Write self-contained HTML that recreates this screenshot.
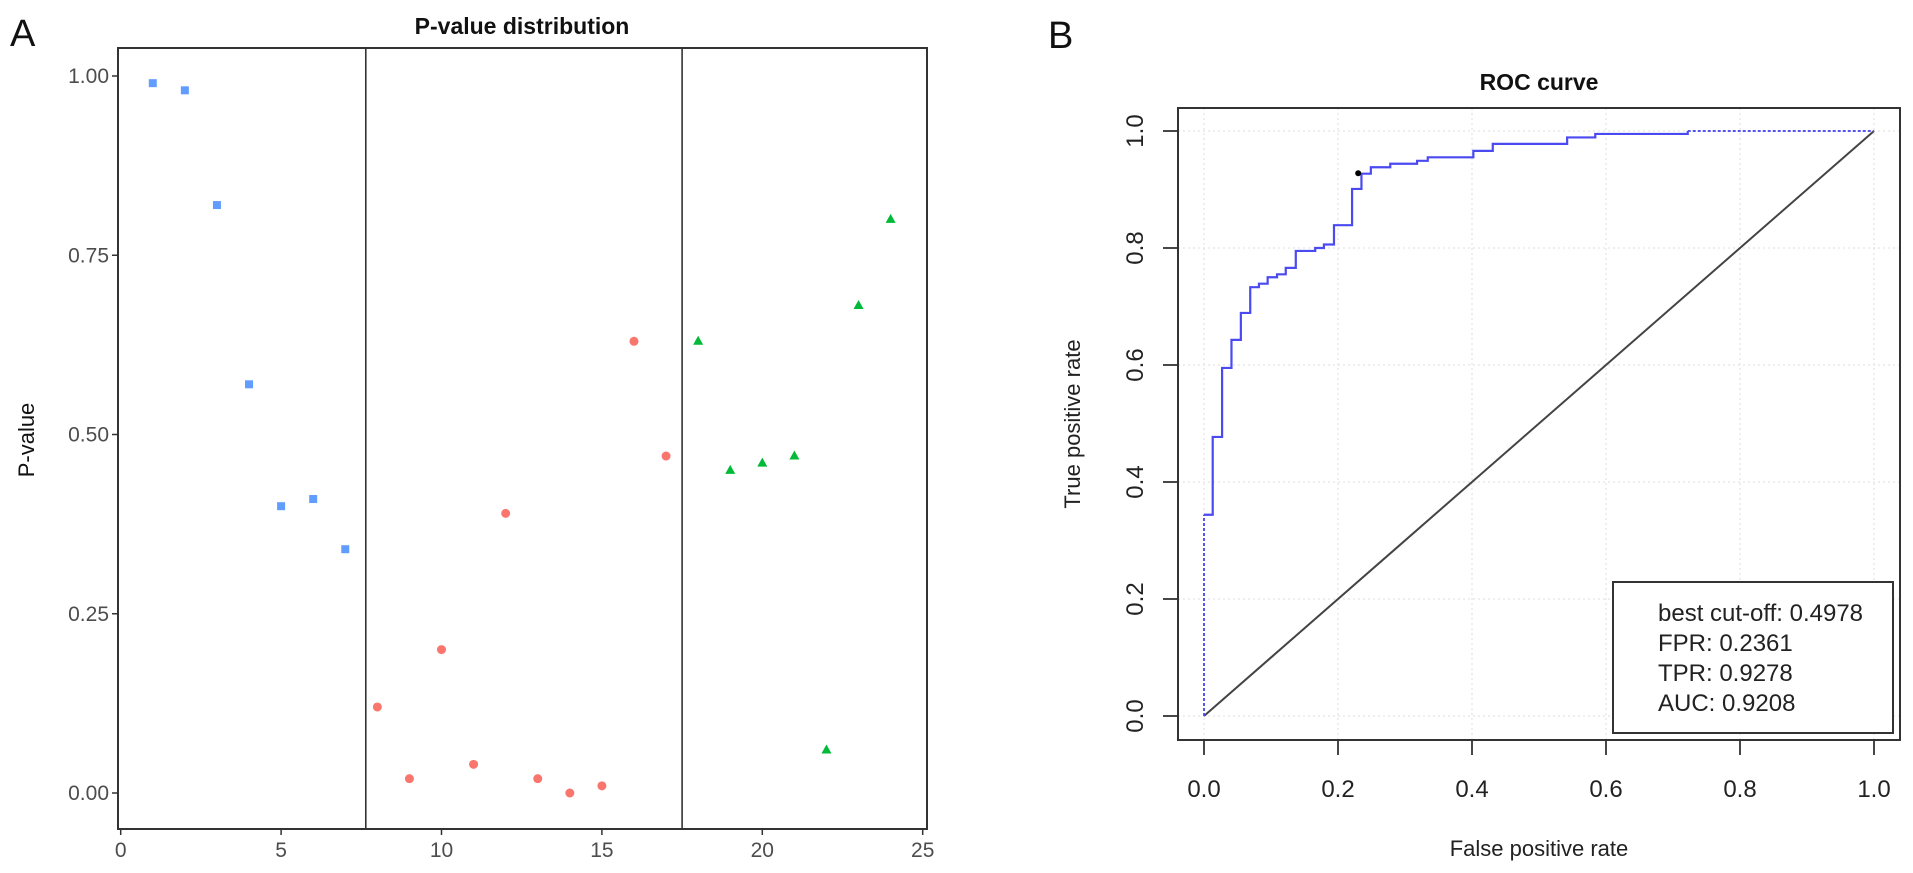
<!DOCTYPE html>
<html><head><meta charset="utf-8"><style>
html,body{margin:0;padding:0;background:#fff;}
svg{display:block;font-family:"Liberation Sans",Arial,sans-serif;}
</style></head><body>
<svg id="fig" width="1913" height="873" viewBox="0 0 1913 873">
<text x="10" y="46" font-size="38" fill="#111">A</text>
<text x="1048" y="48" font-size="38" fill="#111">B</text>
<g id="left"></g>
<g id="right"></g>
</svg>
<script>
// ---- Panel A data ----
const pvBlueX=[1,2,3,4,5,6,7];
const pvBlueY=[0.99,0.98,0.82,0.57,0.40,0.41,0.34];
const pvRedX=[8,9,10,11,12,13,14,15,16,17];
const pvRedY=[0.12,0.02,0.20,0.04,0.39,0.02,0.00,0.01,0.63,0.47];
const pvGreenX=[18,19,20,21,22,23,24];
const pvGreenY=[0.63,0.45,0.46,0.47,0.06,0.68,0.80];
const pvXTicks=[0,5,10,15,20,25];
const pvYTicks=[0,0.25,0.5,0.75,1];
const pvYTickLabels=["0.00","0.25","0.50","0.75","1.00"];
const pvVLines=[7.64,17.5];
// ---- Panel B data ----
const rocStartTpr=0.344;
const rocStepFpr=[0.013,0.027,0.041,0.055,0.069,0.082,0.095,0.109,0.122,0.137,0.166,0.179,0.194,0.221,0.235,0.249,0.278,0.318,0.334,0.402,0.431,0.542,0.584,0.722];
const rocStepTpr=[0.477,0.595,0.643,0.689,0.733,0.739,0.750,0.755,0.766,0.795,0.800,0.806,0.839,0.901,0.927,0.938,0.944,0.949,0.955,0.966,0.978,0.989,0.995,1.0];
const bestPoint=[0.2361,0.9278];
const rocTicks=[0,0.2,0.4,0.6,0.8,1.0];
const rocTickLabels=["0.0","0.2","0.4","0.6","0.8","1.0"];
const legendLines=["best cut-off: 0.4978","FPR: 0.2361","TPR: 0.9278","AUC: 0.9208"];

const NS="http://www.w3.org/2000/svg";
function mk(parent,tag,attrs,text){const e=document.createElementNS(NS,tag);for(const k in attrs)e.setAttribute(k,attrs[k]);if(text!==undefined)e.textContent=text;parent.appendChild(e);return e;}

// Panel A
const L=document.getElementById('left');
const ax=v=>120.7+v*32.08, ay=v=>793-v*717;
let e;
e=mk(L,'rect',{x:118,y:48,width:809,height:781,fill:'#fff',stroke:'#333','stroke-width':2});


pvVLines.forEach(v=>{e=mk(L,'line',{x1:ax(v),x2:ax(v),y1:48,y2:829,stroke:'#333','stroke-width':1.6});

});
pvXTicks.forEach(t=>{mk(L,'line',{x1:ax(t),x2:ax(t),y1:829,y2:835,stroke:'#333','stroke-width':1.5});
e=mk(L,'text',{x:ax(t),y:857,'font-size':21,fill:'#4d4d4d','text-anchor':'middle'},String(t));

});
pvYTicks.forEach((t,i)=>{mk(L,'line',{x1:112,x2:118,y1:ay(t),y2:ay(t),stroke:'#333','stroke-width':1.5});
e=mk(L,'text',{x:109,y:ay(t)+7,'font-size':21,fill:'#4d4d4d','text-anchor':'end'},pvYTickLabels[i]);

});
pvBlueX.forEach((x,i)=>{e=mk(L,'rect',{x:ax(x)-4,y:ay(pvBlueY[i])-4,width:8,height:8,fill:'#619CFF'});

});
pvRedX.forEach((x,i)=>{e=mk(L,'circle',{cx:ax(x),cy:ay(pvRedY[i]),r:4.5,fill:'#F8766D'});

});
pvGreenX.forEach((x,i)=>{const cx=ax(x),cy=ay(pvGreenY[i]);e=mk(L,'polygon',{points:`${cx},${cy-5.5} ${cx+5},${cy+3.5} ${cx-5},${cy+3.5}`,fill:'#00BA38'});

});
e=mk(L,'text',{x:522,y:34,'font-size':23,'font-weight':'bold','text-anchor':'middle',fill:'#111'},'P-value distribution');


e=mk(L,'text',{x:0,y:0,'font-size':22,'text-anchor':'middle',fill:'#111',transform:'translate(34,440) rotate(-90)'},'P-value');



// Panel B
const R=document.getElementById('right');
const bx=v=>1204+v*670, by=v=>716-v*585;
rocTicks.forEach(t=>{
 e=mk(R,'line',{x1:bx(t),x2:bx(t),y1:108,y2:740,stroke:'#ddd','stroke-width':1,'stroke-dasharray':'2,3'});
 
 
 e=mk(R,'line',{x1:1178,x2:1900,y1:by(t),y2:by(t),stroke:'#ddd','stroke-width':1,'stroke-dasharray':'2,3'});
 
 
});
e=mk(R,'line',{x1:bx(0),y1:by(0),x2:bx(1),y2:by(1),stroke:'#444','stroke-width':2});


e=mk(R,'line',{x1:bx(0),y1:by(0),x2:bx(0),y2:by(rocStartTpr),stroke:'#5555ee','stroke-width':2,'stroke-dasharray':'3,2'});


let d=`M${bx(0)},${by(rocStartTpr)}`;
rocStepFpr.forEach((f,i)=>{d+=` H${bx(f)} V${by(rocStepTpr[i])}`;});
e=mk(R,'path',{d:d,fill:'none',stroke:'#4a4af0','stroke-width':2.2});


const lastF=rocStepFpr[rocStepFpr.length-1], lastT=rocStepTpr[rocStepTpr.length-1];
e=mk(R,'line',{x1:bx(lastF),y1:by(lastT),x2:bx(1),y2:by(lastT),stroke:'#5555ee','stroke-width':2,'stroke-dasharray':'3,2'});


e=mk(R,'circle',{cx:bx(bestPoint[0])-4,cy:by(bestPoint[1]),r:3,fill:'#000'});


e=mk(R,'rect',{x:1178,y:108,width:722,height:632,fill:'none',stroke:'#333','stroke-width':2});


rocTicks.forEach((t,i)=>{
 mk(R,'line',{x1:bx(t),x2:bx(t),y1:740,y2:755,stroke:'#333','stroke-width':1.8});
 e=mk(R,'text',{x:bx(t),y:797,'font-size':24,fill:'#222','text-anchor':'middle'},rocTickLabels[i]);
 
 
 mk(R,'line',{x1:1163,x2:1178,y1:by(t),y2:by(t),stroke:'#333','stroke-width':1.8});
 e=mk(R,'text',{x:0,y:0,'font-size':24,fill:'#222','text-anchor':'middle',transform:`translate(1143,${by(t)}) rotate(-90)`},rocTickLabels[i]);
 
 
});
e=mk(R,'text',{x:1539,y:856,'font-size':22,fill:'#222','text-anchor':'middle'},'False positive rate');


e=mk(R,'text',{x:0,y:0,'font-size':22,fill:'#222','text-anchor':'middle',transform:'translate(1080,424) rotate(-90)'},'True positive rate');


e=mk(R,'text',{x:1539,y:90,'font-size':23,'font-weight':'bold',fill:'#111','text-anchor':'middle'},'ROC  curve');


e=mk(R,'rect',{x:1613,y:582,width:280,height:151,fill:'#fff',stroke:'#333','stroke-width':2});


legendLines.forEach((s,i)=>{e=mk(R,'text',{x:1658,y:621+i*30,'font-size':24,fill:'#222'},s);

});
</script>
</body></html>
